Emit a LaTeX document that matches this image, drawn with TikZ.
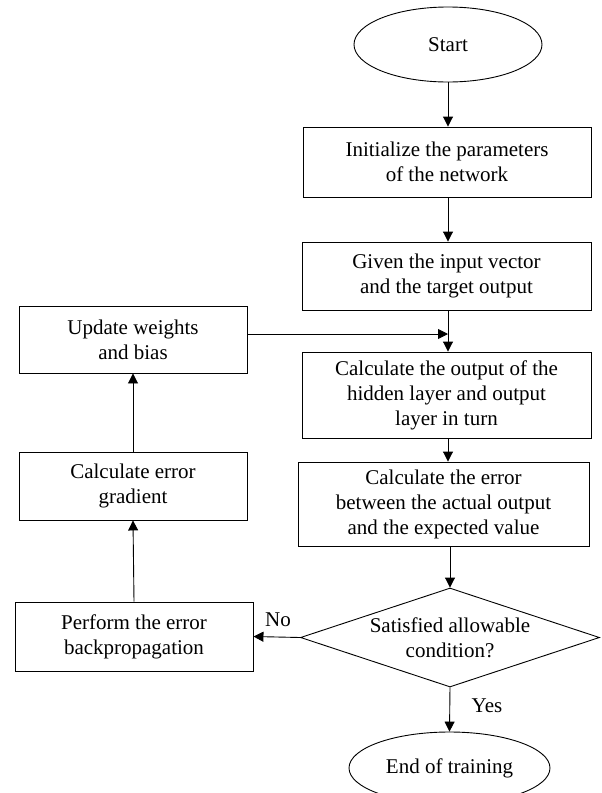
\documentclass[tikz,border=0pt]{standalone}
\usepackage{fontspec}
\setmainfont{Liberation Serif}
\usetikzlibrary{shapes.geometric,arrows.meta}
\tikzset{
  txt/.style={font=\fontsize{21}{25}\selectfont},
  box/.style={draw, line width=0.9pt, rectangle, inner sep=0pt, align=center, txt},
  oval/.style={draw, line width=0.9pt, ellipse, inner sep=0pt, align=center, txt},
  decision/.style={draw, line width=0.9pt, diamond, inner sep=0pt},
  lbl/.style={txt, inner sep=0pt, align=center},
  flow/.style={line width=0.9pt, -{Triangle[length=10pt,width=10pt]}}
}
\begin{document}
\begin{tikzpicture}[x=1pt,y=-1pt]
\clip (0,0) rectangle (602,793);
\useasboundingbox (0,0) rectangle (602,793);
\node[oval, minimum width=188pt, minimum height=75pt] (start) at (448,44.5) {Start};
\node[box, minimum width=288pt, minimum height=70pt] (init) at (447,162) {Initialize the parameters\\of the network};
\node[box, minimum width=289pt, minimum height=68pt] (given) at (446.5,276) {Given the input vector\\and the target output};
\node[box, minimum width=289pt, minimum height=86pt] (calcout) at (446.5,395) {Calculate the output of the\\hidden layer and output\\layer in turn};
\node[box, minimum width=291pt, minimum height=84pt] (calcerr) at (443.5,504) {Calculate the error\\between the actual output\\and the expected value};
\node[decision, minimum width=299pt, minimum height=99pt] (dec) at (450,637.5) {};
\node[lbl] (dectext) at (dec.center) {Satisfied allowable\\condition?};
\node[oval, minimum width=201pt, minimum height=72pt] (end) at (449.5,768) {End of training};
\node[box, minimum width=228pt, minimum height=67pt] (update) at (133,339.5) {Update weights\\and bias};
\node[box, minimum width=228pt, minimum height=68pt] (grad) at (133,486) {Calculate error\\gradient};
\node[box, minimum width=238pt, minimum height=69pt] (perform) at (134,636.5) {Perform the error\\backpropagation};
\node[lbl] (no) at (278,620) {No};
\node[lbl] (yes) at (487,706) {Yes};
\coordinate (feed) at ([yshift=5.5pt]update.east);

\draw[flow] (start.south) -- (start.south |- init.north);
\draw[flow] (start.south |- init.south) -- (start.south |- given.north);
\draw[flow] (start.south |- given.south) -- (start.south |- calcout.north);
\draw[flow] (feed) -- (feed -| start.south);
\draw[flow] (start.south |- calcout.south) -- (start.south |- calcerr.north);
\draw[flow] (dec.north |- calcerr.south) -- (dec.north);
\draw[flow] (dec.west) -- (perform.east);
\draw[flow] (dec.south) -- (end.north);
\draw[flow] (perform.north) -- (grad.south);
\draw[flow] (grad.north) -- (update.south);
\end{tikzpicture}
\end{document}
